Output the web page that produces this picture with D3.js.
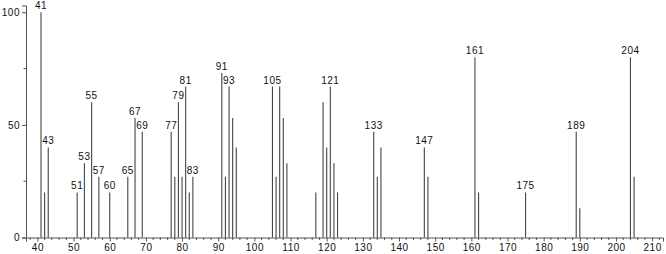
<!DOCTYPE html>
<html>
<head>
<meta charset="utf-8">
<script src="https://cdn.jsdelivr.net/npm/d3@7"></script>
<style>
  body { margin: 0; background: #fff; }
  svg text { font-family: "Liberation Sans", Arial, sans-serif; fill: #111; }
</style>
</head>
<body>
<div id="chart"></div>
<script>
// m/z values and relative intensities
var mz = [41, 42, 43, 51, 53, 55, 57, 60, 65, 67, 69, 77, 78, 79, 80, 81, 82, 83,
  91, 92, 93, 94, 95, 105, 106, 107, 108, 109, 117, 119, 120, 121, 122, 123,
  133, 134, 135, 147, 148, 161, 162, 175, 189, 190, 204, 205];
var intensity = [100, 20, 40, 20, 33, 60, 27, 20, 27, 53, 47, 47, 27, 60, 27, 67, 20, 27,
  73, 27, 67, 53, 40, 67, 27, 67, 53, 33, 20, 60, 40, 67, 33, 20,
  47, 27, 40, 40, 27, 80, 20, 20, 47, 13, 80, 27];
var labelled = [41, 43, 51, 53, 55, 57, 60, 65, 67, 69, 77, 79, 81, 83, 91, 93,
  105, 121, 133, 147, 161, 175, 189, 204];
var xTicks = [40, 50, 60, 70, 80, 90, 100, 110, 120, 130, 140, 150, 160, 170, 180, 190, 200, 210];
var yTicks = [0, 50, 100];

var width = 666, height = 254;
var margin = { top: 5.5, right: 3, bottom: 16.5, left: 26 };

var svg = d3.select('#chart').append('svg')
  .attr('width', width)
  .attr('height', height);

var x = d3.scaleLinear().domain([36.85, 213]).range([margin.left, width - margin.right]);
var y = d3.scaleLinear().domain([0, 103]).range([height - margin.bottom, margin.top]);

var peaks = mz.map(function (m, i) { return { mz: m, value: intensity[i] }; });

// x axis: labelled every 10, small ticks every 2
var xAxis = svg.append('g')
  .attr('transform', 'translate(0,' + y(0) + ')')
  .call(d3.axisBottom(x).tickValues(xTicks).tickSize(4).tickPadding(2).tickFormat(d3.format('d')));
xAxis.append('g').selectAll('line')
  .data(d3.range(38, 213, 2).filter(function (d) { return d % 10 !== 0; }))
  .enter().append('line')
  .attr('x1', function (d) { return x(d); })
  .attr('x2', function (d) { return x(d); })
  .attr('y1', 0).attr('y2', 2.5)
  .attr('stroke', '#555');

// y axis: labels at 0/50/100, small ticks at 25/75
var yAxis = svg.append('g')
  .attr('transform', 'translate(' + margin.left + ',0)')
  .call(d3.axisLeft(y).tickValues(yTicks).tickSize(4).tickPadding(2).tickFormat(d3.format('d')));
yAxis.append('g').selectAll('line')
  .data([25, 75])
  .enter().append('line')
  .attr('x1', -2.5).attr('x2', 0)
  .attr('y1', function (d) { return y(d); })
  .attr('y2', function (d) { return y(d); })
  .attr('stroke', '#555');

svg.selectAll('.domain').attr('stroke', '#555');
svg.selectAll('.tick line').attr('stroke', '#555');
svg.selectAll('.tick text').attr('font-size', 10).style('letter-spacing', '0.5px');

// peaks
svg.append('g').selectAll('line')
  .data(peaks)
  .enter().append('line')
  .attr('x1', function (d) { return x(d.mz); })
  .attr('x2', function (d) { return x(d.mz); })
  .attr('y1', y(0))
  .attr('y2', function (d) { return y(d.value); })
  .attr('stroke', '#444')
  .attr('stroke-width', 1.1);

// peak labels
svg.append('g').selectAll('text')
  .data(peaks.filter(function (d) { return labelled.indexOf(d.mz) >= 0; }))
  .enter().append('text')
  .attr('x', function (d) { return x(d.mz); })
  .attr('y', function (d) { return y(d.value) - 3; })
  .attr('text-anchor', 'middle')
  .attr('font-size', 10)
  .style('letter-spacing', '0.5px')
  .text(function (d) { return d.mz; });
</script>
</body>
</html>
